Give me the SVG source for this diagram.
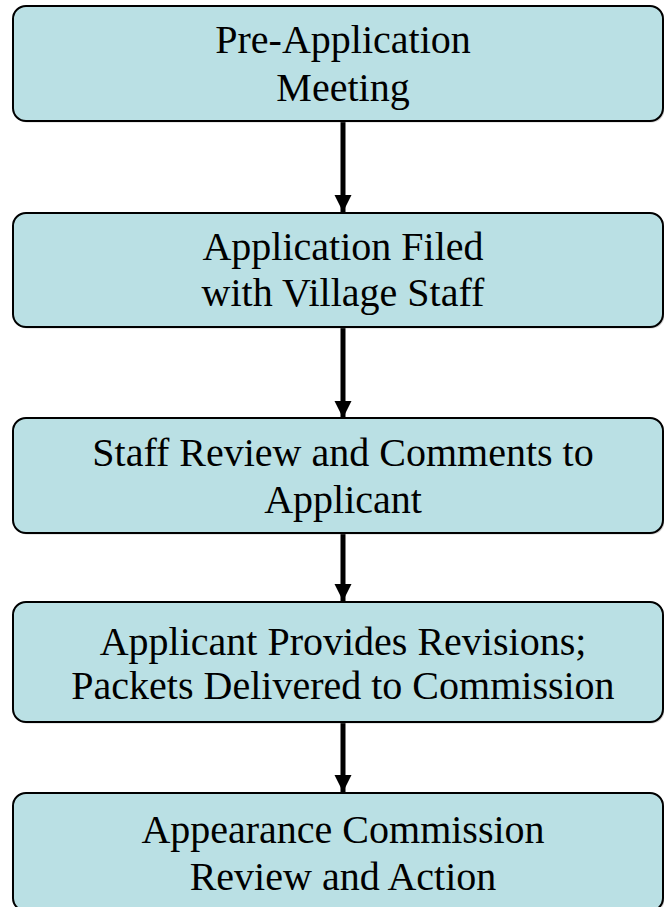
<svg xmlns="http://www.w3.org/2000/svg" width="664" height="907" viewBox="0 0 664 907">
<style>
.box{fill:#BAE0E4;stroke:#000;stroke-width:2}
.sh{fill:#9a9a9a;opacity:0.45}
.t{font-family:"Liberation Serif","Times New Roman",serif;font-size:40px;fill:#000;text-anchor:middle}
.c{stroke:#000;stroke-width:5;fill:none}
</style>
<defs>
<marker id="ah" markerUnits="userSpaceOnUse" markerWidth="18" markerHeight="18" refX="17" refY="9" orient="auto" viewBox="0 0 18 18">
<path d="M0,0.5 L17,9 L0,17.5 Z" fill="#000"/>
</marker>
</defs>
<g id="connectors">
<path class="c" d="M343,122 V212" marker-end="url(#ah)"/>
<path class="c" d="M343,328 V418" marker-end="url(#ah)"/>
<path class="c" d="M343,534 V601" marker-end="url(#ah)"/>
<path class="c" d="M343,723 V792" marker-end="url(#ah)"/>
</g>
<g id="n1">
<rect class="sh" x="14.5" y="7.5" width="650" height="115" rx="13"/>
<rect class="box" x="13" y="6" width="650" height="115" rx="13"/>
<text class="t" x="343" y="53">Pre-Application</text>
<text class="t" x="343" y="101">Meeting</text>
</g>
<g id="n2">
<rect class="sh" x="14.5" y="214.5" width="650" height="114" rx="13"/>
<rect class="box" x="13" y="213" width="650" height="114" rx="13"/>
<text class="t" x="343" y="260">Application Filed</text>
<text class="t" x="343" y="306">with Village Staff</text>
</g>
<g id="n3">
<rect class="sh" x="14.5" y="419.5" width="650" height="115" rx="13"/>
<rect class="box" x="13" y="418" width="650" height="115" rx="13"/>
<text class="t" x="343" y="466">Staff Review and Comments to</text>
<text class="t" x="343" y="513">Applicant</text>
</g>
<g id="n4">
<rect class="sh" x="14.5" y="603.5" width="650" height="120" rx="13"/>
<rect class="box" x="13" y="602" width="650" height="120" rx="13"/>
<text class="t" x="343" y="655">Applicant Provides Revisions;</text>
<text class="t" x="343" y="699">Packets Delivered to Commission</text>
</g>
<g id="n5">
<rect class="sh" x="14.5" y="794.5" width="650" height="118" rx="13"/>
<rect class="box" x="13" y="793" width="650" height="118" rx="13"/>
<text class="t" x="343" y="843">Appearance Commission</text>
<text class="t" x="343" y="890">Review and Action</text>
</g>
</svg>
